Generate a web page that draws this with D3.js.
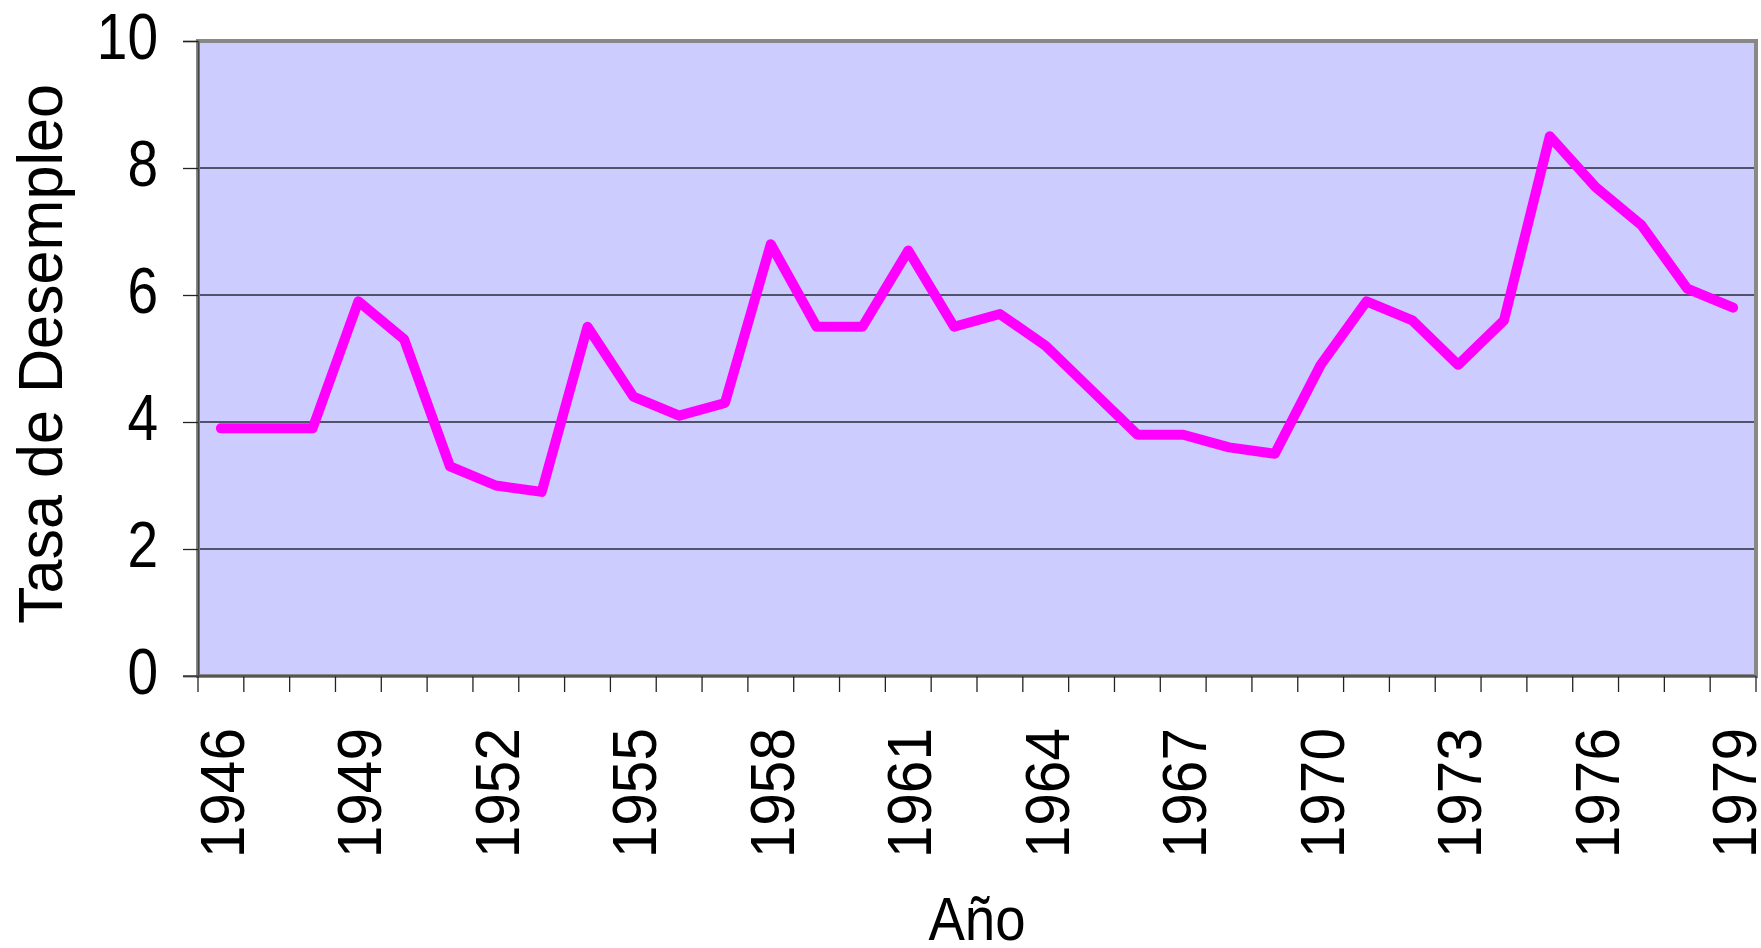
<!DOCTYPE html>
<html>
<head>
<meta charset="utf-8">
<script src="https://cdn.jsdelivr.net/npm/d3@7"></script>
<style>
  html, body { margin: 0; padding: 0; background: #fff; }
  svg { display: block; font-family: "Liberation Sans", Arial, sans-serif; }
</style>
</head>
<body>
<div id="chart"></div>
<script>
// Tasa de desempleo 1946-1979
const years = d3.range(1946, 1980).map(String);
const rates = [
  3.9, 3.9, 3.9, 5.9, 5.3, 3.3, 3.0, 2.9, 5.5, 4.4,
  4.1, 4.3, 6.8, 5.5, 5.5, 6.7, 5.5, 5.7, 5.2, 4.5,
  3.8, 3.8, 3.6, 3.5, 4.9, 5.9, 5.6, 4.9, 5.6, 8.5,
  7.7, 7.1, 6.1, 5.8,
];
const yTicks = [0, 2, 4, 6, 8, 10];
const xLabelYears = years.filter((y, i) => i % 3 === 0);

const W = 1761, H = 948;
const pL = 198, pR = 1756, pT = 41, pB = 676;

const svg = d3.select("#chart").append("svg")
  .attr("width", W).attr("height", H);

const x = d3.scaleBand().domain(years).range([pL, pR]);
const y = d3.scaleLinear().domain([0, 10]).range([pB, pT]);
const cx = d => x(d) + x.bandwidth() / 2;

// plot background
svg.append("rect")
  .attr("x", pL).attr("y", pT)
  .attr("width", pR - pL).attr("height", pB - pT)
  .attr("fill", "#ccccff");

// gridlines
svg.append("g").selectAll("line")
  .data(yTicks.filter(d => d > 0 && d < 10)).join("line")
  .attr("x1", pL).attr("x2", pR)
  .attr("y1", d => y(d)).attr("y2", d => y(d))
  .attr("stroke", "#2a2a3a").attr("stroke-width", 1.3);

// plot border
svg.append("rect")
  .attr("x", pL).attr("y", pT)
  .attr("width", pR - pL).attr("height", pB - pT)
  .attr("fill", "none")
  .attr("stroke", "#888").attr("stroke-width", 4);

// y axis (ticks + compressed labels like the original)
const yAxis = svg.append("g")
  .attr("transform", `translate(${pL},0)`)
  .call(d3.axisLeft(y).tickValues(yTicks).tickSize(15).tickFormat(""));
yAxis.select(".domain").attr("stroke", "#444").attr("stroke-width", 1.5);
yAxis.selectAll(".tick line").attr("stroke", "#222").attr("stroke-width", 1.3);

svg.append("g").selectAll("text")
  .data(yTicks).join("text")
  .attr("transform", d => `translate(158,${y(d) + 18}) scale(0.86,1)`)
  .attr("text-anchor", "end")
  .attr("font-size", 64)
  .attr("fill", "#000")
  .text(d => d);

// x axis: ticks between categories
const bounds = years.map(d => x(d)).concat([pR]);
svg.append("g").selectAll("line")
  .data(bounds).join("line")
  .attr("x1", d => d).attr("x2", d => d)
  .attr("y1", pB).attr("y2", pB + 16)
  .attr("stroke", "#222").attr("stroke-width", 1.3);
svg.append("line")
  .attr("x1", pL - 15).attr("x2", pR)
  .attr("y1", pB).attr("y2", pB)
  .attr("stroke", "#444").attr("stroke-width", 1.5);

svg.append("g").selectAll("text")
  .data(xLabelYears).join("text")
  .attr("transform", d => `translate(${cx(d) + 23},728) rotate(-90) scale(0.93,1)`)
  .attr("text-anchor", "end")
  .attr("font-size", 63)
  .attr("fill", "#000")
  .text(d => d);

// line
const line = d3.line()
  .x((d, i) => cx(years[i]))
  .y(d => y(d));

svg.append("path")
  .datum(rates)
  .attr("d", line)
  .attr("fill", "none")
  .attr("stroke", "#ff00ff")
  .attr("stroke-width", 10)
  .attr("stroke-linejoin", "round")
  .attr("stroke-linecap", "round");

// axis titles
svg.append("text")
  .attr("transform", `translate(${(pL + pR) / 2},940) scale(0.88,1)`)
  .attr("text-anchor", "middle")
  .attr("font-size", 62)
  .attr("fill", "#000")
  .text("Año");

svg.append("text")
  .attr("transform", `translate(62,354) rotate(-90) scale(0.97,1)`)
  .attr("text-anchor", "middle")
  .attr("font-size", 63)
  .attr("fill", "#000")
  .text("Tasa de Desempleo");
</script>
</body>
</html>
